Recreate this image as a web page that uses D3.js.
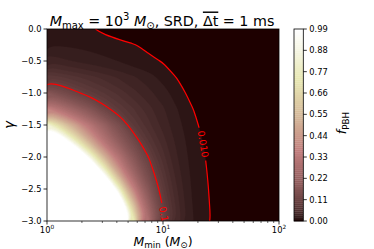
<!DOCTYPE html>
<html>
<head>
<meta charset="utf-8">
<script src="https://cdn.jsdelivr.net/npm/d3@7"></script>
<style>
  body { margin: 0; background: #fff; }
  svg { display: block; }
  text { font-family: "DejaVu Sans", sans-serif; fill: #000; }
</style>
</head>
<body>
<svg id="chart" width="374" height="249"></svg>
<script>
// grid columns: log10 of M_min (in solar masses)
const log10Mmin = [0, 0.125, 0.25, 0.375, 0.5, 0.625, 0.75, 0.875, 1, 1.125, 1.25, 1.375, 1.5, 1.625, 1.75, 1.875, 2];
// grid rows: gamma, top to bottom
const gammaValues = [0, -0.25, -0.5, -0.75, -1, -1.25, -1.5, -1.75, -2, -2.25, -2.5, -2.75, -3];
const log10fPBH = [
  [-1.745, -1.77, -1.83, -1.97, -2.10, -2.22, -2.34, -2.46, -2.57, -2.68, -2.78, -2.88, -2.97, -3.06, -3.14, -3.22, -3.30],
  [-1.71, -1.72, -1.74, -1.77, -1.82, -1.89, -1.98, -2.09, -2.20, -2.31, -2.42, -2.52, -2.62, -2.71, -2.80, -2.88, -2.96],
  [-1.42, -1.48, -1.54, -1.595, -1.65, -1.71, -1.82, -1.92, -2.025, -2.14, -2.26, -2.38, -2.50, -2.61, -2.71, -2.80, -2.89],
  [-1.10, -1.15, -1.21, -1.27, -1.34, -1.42, -1.51, -1.60, -1.78, -2.03, -2.22, -2.36, -2.48, -2.59, -2.69, -2.78, -2.87],
  [-0.764, -0.868, -0.972, -1.07, -1.16, -1.25, -1.36, -1.48, -1.61, -1.80, -2.15, -2.33, -2.46, -2.57, -2.67, -2.76, -2.85],
  [-0.417, -0.53, -0.65, -0.78, -0.95, -1.10, -1.22, -1.35, -1.50, -1.70, -1.975, -2.25, -2.43, -2.55, -2.65, -2.74, -2.83],
  [-0.07, -0.20, -0.34, -0.50, -0.67, -0.86, -1.10, -1.27, -1.44, -1.62, -1.868, -2.165, -2.38, -2.52, -2.63, -2.72, -2.81],
  [0.25, 0.07, -0.12, -0.31, -0.51, -0.71, -0.91, -1.15, -1.35, -1.57, -1.80, -2.07, -2.33, -2.49, -2.61, -2.71, -2.80],
  [0.50, 0.36, 0.18, -0.06, -0.29, -0.52, -0.76, -1.00, -1.26, -1.52, -1.77, -2.02, -2.27, -2.46, -2.59, -2.70, -2.79],
  [0.80, 0.62, 0.44, 0.22, -0.06, -0.34, -0.62, -0.89, -1.17, -1.46, -1.74, -1.99, -2.24, -2.44, -2.58, -2.69, -2.78],
  [1.10, 0.92, 0.72, 0.50, 0.23, -0.106, -0.435, -0.765, -1.09, -1.40, -1.715, -1.965, -2.21, -2.42, -2.57, -2.68, -2.77],
  [1.40, 1.20, 0.98, 0.74, 0.48, 0.12, -0.26, -0.64, -1.02, -1.35, -1.69, -1.95, -2.19, -2.40, -2.56, -2.67, -2.76],
  [1.70, 1.48, 1.24, 0.98, 0.68, 0.28, -0.13, -0.535, -0.94, -1.31, -1.665, -1.93, -2.17, -2.38, -2.55, -2.66, -2.75]
];
// filled levels 0.00 .. 0.99 in steps of 0.01
const fLevels = d3.range(100).map(i => i / 100);
const cbarTicks = [0, 0.11, 0.22, 0.33, 0.44, 0.55, 0.66, 0.77, 0.88, 0.99];
const lineLevels = [0.01, 0.1];
const lineLabels = ["0.010", "0.1"];
const labelY = [144, 214];
const yTicks = [-3, -2.5, -2, -1.5, -1, -0.5, 0];
const xTicks = [1, 10, 100];

const X0 = 47, X1 = 279, Y0 = 29, Y1 = 221;
const CB0 = 294, CB1 = 303.3;

const svg = d3.select("#chart");
const x = d3.scaleLog().domain([1, 100]).range([X0, X1]);
const y = d3.scaleLinear().domain([-3, 0]).range([Y1, Y0]);
const yCb = d3.scaleLinear().domain([0, 0.99]).range([Y1, Y0]);

// matplotlib "pink" = sqrt((2*gray + hot)/3)
function pink(v) {
  const hr = v < 0.365079 ? 0.0416 + (1 - 0.0416) * v / 0.365079 : 1;
  const hg = v < 0.365079 ? 0 : v < 0.746032 ? (v - 0.365079) / (0.746032 - 0.365079) : 1;
  const hb = v < 0.746032 ? 0 : (v - 0.746032) / (1 - 0.746032);
  const c = [hr, hg, hb].map(k => Math.round(255 * Math.sqrt((2 * v + k) / 3)));
  return `rgb(${c.join(",")})`;
}
// bands are coloured by their index, first band darkest, last band lightest
const nBands = fLevels.length - 1;
const bandColor = i => pink(i / (nBands - 1));

const defs = svg.append("defs");
defs.append("clipPath").attr("id", "plotclip")
  .append("rect").attr("x", X0).attr("y", Y0).attr("width", X1 - X0).attr("height", Y1 - Y0);

// contours on the grid
const nx = log10Mmin.length, ny = gammaValues.length;
const flat = log10fPBH.flat();
const cgen = d3.contours().size([nx, ny]);
const gx = d3.scaleLinear().domain([0.5, nx - 0.5]).range([log10Mmin[0], log10Mmin[nx - 1]]);
const gy = d3.scaleLinear().domain([0.5, ny - 0.5]).range([gammaValues[0], gammaValues[ny - 1]]);
const toPx = p => [x(Math.pow(10, gx(p[0]))), y(gy(p[1]))];
const ringLine = d3.line().curve(d3.curveBasisClosed);

function contourPath(level) {
  const mp = cgen.contour(flat, Math.log10(level));
  return mp.coordinates.map(poly =>
    poly.map(ring => ringLine(ring.slice(0, -1).map(toPx))).join("")).join("");
}

const field = svg.append("g").attr("clip-path", "url(#plotclip)");
field.append("rect").attr("x", X0).attr("y", Y0).attr("width", X1 - X0).attr("height", Y1 - Y0)
  .attr("fill", bandColor(0));
for (let i = 1; i < fLevels.length; i++) {
  const col = i < fLevels.length - 1 ? bandColor(i) : "#fff"; // above 0.99 left unfilled
  field.append("path").attr("d", contourPath(fLevels[i])).attr("fill", col)
    .attr("stroke", col).attr("stroke-width", 0.3);
}

// label spots on the red lines
function labelSpot(level, ty) {
  const mp = cgen.contour(flat, Math.log10(level));
  for (const poly of mp.coordinates) for (const ring of poly) {
    const pts = ring.map(toPx);
    for (let i = 0; i < pts.length - 1; i++) {
      const a = pts[i], b = pts[i + 1];
      if ((a[1] - ty) * (b[1] - ty) <= 0 && a[1] !== b[1] &&
          Math.min(a[0], b[0]) > X0 && Math.max(a[0], b[0]) < X1) {
        const t = (ty - a[1]) / (b[1] - a[1]);
        let dx = b[0] - a[0], dy = b[1] - a[1];
        if (dy < 0) { dx = -dx; dy = -dy; }
        return { x: a[0] + t * (b[0] - a[0]), y: ty, angle: Math.atan2(dy, dx) * 180 / Math.PI };
      }
    }
  }
  return null;
}

const spots = lineLevels.map((lv, i) => labelSpot(lv, labelY[i]));
const mask = defs.append("mask").attr("id", "gapmask");
mask.append("rect").attr("x", 0).attr("y", 0).attr("width", 374).attr("height", 249).attr("fill", "#fff");
spots.forEach((s, i) => {
  if (!s) return;
  const len = lineLabels[i].length * 5.7 + 5;
  mask.append("rect").attr("x", -len / 2).attr("y", -5).attr("width", len).attr("height", 10)
    .attr("fill", "#000").attr("transform", `translate(${s.x},${s.y}) rotate(${s.angle})`);
});

const lines = svg.append("g").attr("clip-path", "url(#plotclip)")
  .append("g").attr("mask", "url(#gapmask)");
lineLevels.forEach(lv => {
  lines.append("path").attr("d", contourPath(lv)).attr("fill", "none")
    .attr("stroke", "#ff0000").attr("stroke-width", 1.2);
});
spots.forEach((s, i) => {
  if (!s) return;
  svg.append("text").text(lineLabels[i])
    .attr("transform", `translate(${s.x},${s.y}) rotate(${s.angle})`)
    .attr("text-anchor", "middle").attr("dominant-baseline", "central")
    .attr("font-size", 9.5).style("fill", "#ff0000");
});

// frame
svg.append("rect").attr("x", X0).attr("y", Y0).attr("width", X1 - X0).attr("height", Y1 - Y0)
  .attr("fill", "none").attr("stroke", "#000").attr("stroke-width", 0.8);

// rich text helper (italic, sub/superscript, overline)
function rich(parent, px, py, size, parts, anchor) {
  const t = parent.append("text").attr("x", px).attr("y", py)
    .attr("font-size", size).attr("text-anchor", anchor || "middle");
  let shift = 0;
  parts.forEach(p => {
    const target = p.sub ? size * 0.22 : p.sup ? -size * 0.4 : 0;
    const ts = t.append("tspan").text(p.t).attr("dy", target - shift);
    shift = target;
    if (p.sub || p.sup) ts.attr("font-size", size * 0.7);
    if (p.it) ts.attr("font-style", "italic");
    if (p.over) ts.attr("text-decoration", "overline");
  });
  return t;
}

// y axis
const fmtMinus = v => d3.format(".1f")(v).replace("-", "\u2212");
yTicks.forEach(v => {
  svg.append("line").attr("x1", X0 - 3.5).attr("x2", X0).attr("y1", y(v)).attr("y2", y(v))
    .attr("stroke", "#000").attr("stroke-width", 0.8);
  svg.append("text").attr("x", X0 - 5.5).attr("y", y(v) + 3).attr("text-anchor", "end")
    .attr("font-size", 8.3).text(fmtMinus(v));
});

// x axis: major and minor log ticks
const minor = [];
[1, 10].forEach(d => { for (let k = 2; k <= 9; k++) minor.push(d * k); });
minor.forEach(v => {
  svg.append("line").attr("x1", x(v)).attr("x2", x(v)).attr("y1", Y1).attr("y2", Y1 + 2)
    .attr("stroke", "#000").attr("stroke-width", 0.6);
});
xTicks.forEach(v => {
  svg.append("line").attr("x1", x(v)).attr("x2", x(v)).attr("y1", Y1).attr("y2", Y1 + 3.5)
    .attr("stroke", "#000").attr("stroke-width", 0.8);
  rich(svg, x(v), 232.5, 8.3, [{ t: "10" }, { t: String(Math.round(Math.log10(v))), sup: true }]);
});

// axis labels and title
rich(svg, 163, 245.5, 12.5, [
  { t: "M", it: true }, { t: "min", sub: true }, { t: " (" },
  { t: "M", it: true }, { t: "\u2299", sub: true }, { t: ")" }
]);
svg.append("text").attr("transform", "translate(13.5,125) rotate(-90)")
  .attr("text-anchor", "middle").attr("font-size", 13.5).attr("font-style", "italic").text("\u03b3");
rich(svg, 162, 25.5, 14.3, [
  { t: "M", it: true }, { t: "max", sub: true }, { t: " = 10" }, { t: "3", sup: true },
  { t: " " }, { t: "M", it: true }, { t: "\u2299", sub: true }, { t: ",  SRD,  " },
  { t: "\u0394t", over: true }, { t: " = 1 ms" }
]);

// colour bar
const cb = svg.append("g");
for (let i = 0; i < nBands; i++) {
  cb.append("rect").attr("x", CB0).attr("width", CB1 - CB0)
    .attr("y", yCb(fLevels[i + 1])).attr("height", yCb(fLevels[i]) - yCb(fLevels[i + 1]) + 0.3)
    .attr("fill", bandColor(i));
}
cb.append("rect").attr("x", CB0).attr("y", Y0).attr("width", CB1 - CB0).attr("height", Y1 - Y0)
  .attr("fill", "none").attr("stroke", "#000").attr("stroke-width", 0.8);
cbarTicks.forEach(v => {
  cb.append("line").attr("x1", CB1).attr("x2", CB1 + 3.5).attr("y1", yCb(v)).attr("y2", yCb(v))
    .attr("stroke", "#000").attr("stroke-width", 0.8);
  cb.append("text").attr("x", CB1 + 6).attr("y", yCb(v) + 3).attr("font-size", 8.3)
    .text(d3.format(".2f")(v));
});
const cbl = svg.append("g").attr("transform", "translate(346,123) rotate(-90)");
rich(cbl, 0, 0, 12.5, [{ t: "f", it: true }, { t: "PBH", sub: true }]);
</script>
</body>
</html>
